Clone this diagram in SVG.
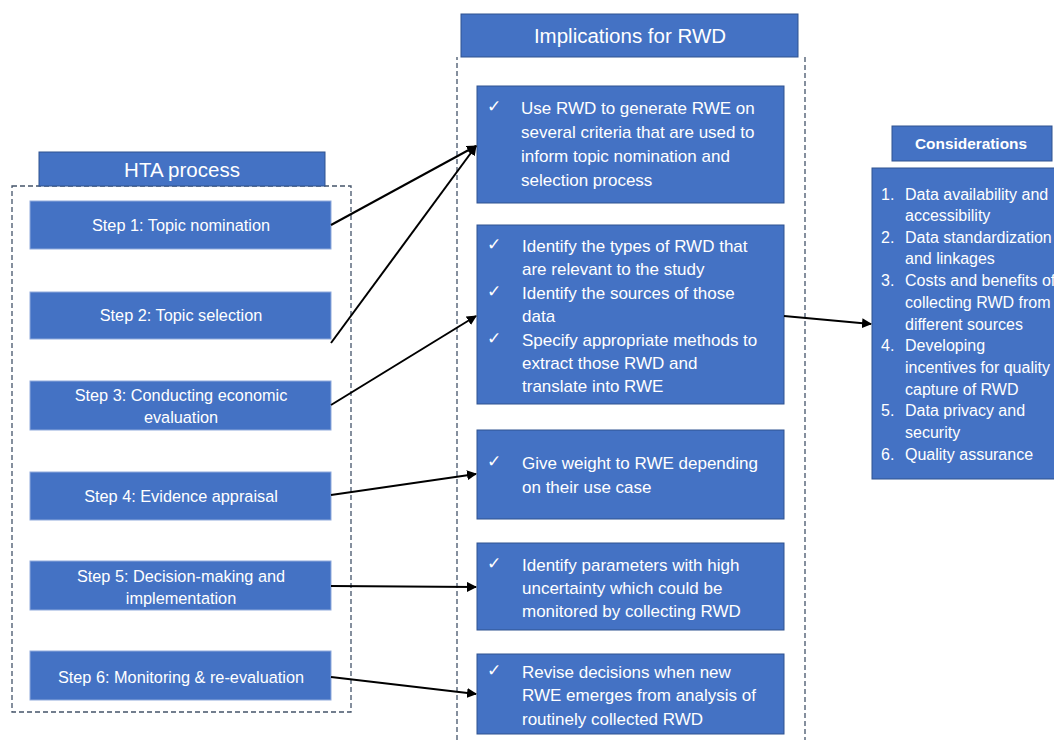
<svg xmlns="http://www.w3.org/2000/svg" width="1054" height="740" viewBox="0 0 1054 740">
<style>
.box{fill:#4472C4;stroke:#2F528F;stroke-width:1}
.step{fill:#4472C4;stroke:#8FAADC;stroke-width:1}
.dash{fill:none;stroke:#44546A;stroke-width:1.3;stroke-dasharray:5,3}
.t{font-family:"Liberation Sans",Arial,sans-serif;fill:#fff}
.st{font-size:16.3px;text-anchor:middle}
.hd{font-size:20.5px;text-anchor:middle}
.bt{font-size:17px}
.ct{font-size:16px}
.conn line{stroke:#000;stroke-width:2;marker-end:url(#ah)}
</style>
<defs>
<marker id="ah" viewBox="0 0 10 10" refX="9" refY="5" markerWidth="5" markerHeight="5" orient="auto" markerUnits="strokeWidth">
<path d="M0,0 L10,5 L0,10 z" fill="#000"/>
</marker>
</defs>
<rect width="1054" height="740" fill="#fff"/>

<g id="hta-container">
<rect class="dash" x="12" y="186" width="339" height="526"/>
<rect class="box" x="39" y="152" width="286" height="34"/>
<text class="t hd" x="182" y="177">HTA process</text>
</g>
<g id="step1"><rect class="step" x="30" y="201" width="301" height="48"/><text class="t st" x="181" y="231">Step 1: Topic nomination</text></g>
<g id="step2"><rect class="step" x="30" y="292" width="301" height="47"/><text class="t st" x="181" y="321">Step 2: Topic selection</text></g>
<g id="step3"><rect class="step" x="30" y="381" width="301" height="49"/><text class="t st" x="181" y="401">Step 3: Conducting economic</text><text class="t st" x="181" y="423">evaluation</text></g>
<g id="step4"><rect class="step" x="30" y="472" width="301" height="48"/><text class="t st" x="181" y="502">Step 4: Evidence appraisal</text></g>
<g id="step5"><rect class="step" x="30" y="561" width="301" height="49"/><text class="t st" x="181" y="582">Step 5: Decision-making and</text><text class="t st" x="181" y="604">implementation</text></g>
<g id="step6"><rect class="step" x="30" y="651" width="301" height="49"/><text class="t st" x="181" y="683">Step 6: Monitoring &amp; re-evaluation</text></g>

<g id="rwd-container">
<path class="dash" d="M457,740 V57 M805,57 V740"/>
<rect class="box" x="461" y="14" width="337" height="43"/>
<text class="t hd" x="630" y="43">Implications for RWD</text>
</g>
<g id="rwd1"><rect class="box" x="477" y="86" width="307" height="117"/>
<text class="t bt" x="487" y="112">✓</text>
<text class="t bt" x="521" y="114">Use RWD to generate RWE on</text>
<text class="t bt" x="521" y="138">several criteria that are used to</text>
<text class="t bt" x="521" y="162">inform topic nomination and</text>
<text class="t bt" x="521" y="186">selection process</text></g>
<g id="rwd2"><rect class="box" x="477" y="225" width="307" height="179"/>
<text class="t bt" x="487" y="250">✓</text>
<text class="t bt" x="522" y="252">Identify the types of RWD that</text>
<text class="t bt" x="522" y="275">are relevant to the study</text>
<text class="t bt" x="487" y="297">✓</text>
<text class="t bt" x="522" y="299">Identify the sources of those</text>
<text class="t bt" x="522" y="322">data</text>
<text class="t bt" x="487" y="344">✓</text>
<text class="t bt" x="522" y="346">Specify appropriate methods to</text>
<text class="t bt" x="522" y="369">extract those RWD and</text>
<text class="t bt" x="522" y="392">translate into RWE</text></g>
<g id="rwd3"><rect class="box" x="477" y="430" width="307" height="89"/>
<text class="t bt" x="487" y="467">✓</text>
<text class="t bt" x="522" y="469">Give weight to RWE depending</text>
<text class="t bt" x="522" y="493">on their use case</text></g>
<g id="rwd4"><rect class="box" x="477" y="543" width="307" height="87"/>
<text class="t bt" x="487" y="569">✓</text>
<text class="t bt" x="522" y="571">Identify parameters with high</text>
<text class="t bt" x="522" y="594">uncertainty which could be</text>
<text class="t bt" x="522" y="617">monitored by collecting RWD</text></g>
<g id="rwd5"><rect class="box" x="477" y="654" width="307" height="80"/>
<text class="t bt" x="487" y="676">✓</text>
<text class="t bt" x="522" y="678">Revise decisions when new</text>
<text class="t bt" x="522" y="701">RWE emerges from analysis of</text>
<text class="t bt" x="522" y="725">routinely collected RWD</text></g>

<g id="considerations-header"><rect class="box" x="892" y="126" width="160" height="35"/>
<text class="t" x="971" y="149" font-size="15.4" font-weight="bold" text-anchor="middle">Considerations</text></g>
<g id="considerations"><rect class="box" x="872" y="168" width="190" height="311"/>
<g class="t ct">
<text x="881" y="200">1.</text><text x="905" y="200">Data availability and</text>
<text x="905" y="221">accessibility</text>
<text x="881" y="243">2.</text><text x="905" y="243">Data standardization</text>
<text x="905" y="264">and linkages</text>
<text x="881" y="286">3.</text><text x="905" y="286">Costs and benefits of</text>
<text x="905" y="308">collecting RWD from</text>
<text x="905" y="330">different sources</text>
<text x="881" y="351">4.</text><text x="905" y="351">Developing</text>
<text x="905" y="373">incentives for quality</text>
<text x="905" y="395">capture of RWD</text>
<text x="881" y="416">5.</text><text x="905" y="416">Data privacy and</text>
<text x="905" y="438">security</text>
<text x="881" y="460">6.</text><text x="905" y="460">Quality assurance</text>
</g></g>

<g id="connectors" class="conn">
<line x1="331" y1="225" x2="476" y2="146"/>
<line x1="331" y1="343" x2="476" y2="146"/>
<line x1="331" y1="405" x2="476" y2="316"/>
<line x1="331" y1="495" x2="476" y2="474"/>
<line x1="331" y1="586" x2="476" y2="587"/>
<line x1="331" y1="677" x2="476" y2="694"/>
<line x1="784" y1="316" x2="871" y2="324"/>
</g>
</svg>
